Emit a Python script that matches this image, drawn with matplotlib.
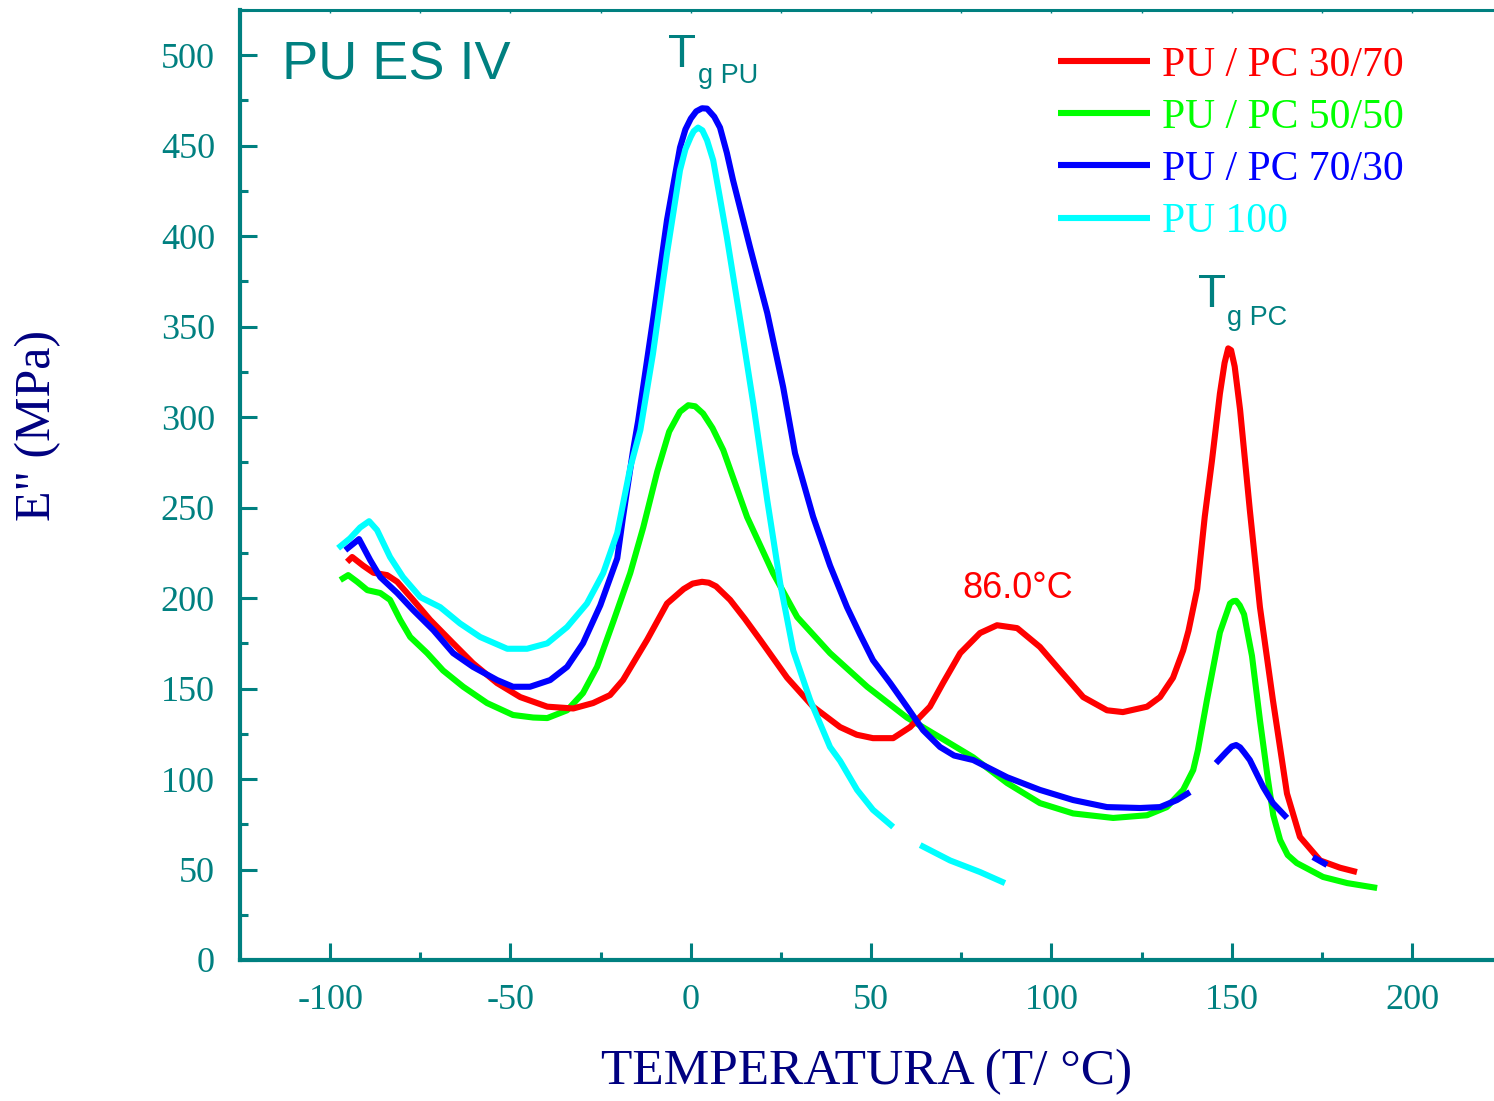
import numpy as np
import matplotlib
matplotlib.use("Agg")
import matplotlib.pyplot as plt
from matplotlib.ticker import MultipleLocator

plt.rcParams["axes.unicode_minus"] = False
nan = np.nan

# ---------------- data ----------------
red_T = [-95.3, -93.9, -90.9, -88, -84.2, -81.4, -77, -72.3, -65.9, -60.4, -53.7, -47.3, -39.8,
         -32.6, -27.1, -22.4, -18.8, -12.1, -6.6, -2, 0.5, 3.1, 5, 7, 10.9, 15, 19.2, 26.7, 33.9,
         41.4, 46, 50.5, 56.1, 60.8, 66.3, 69.9, 74.7, 80.2, 84.9, 90.5, 96.8, 102.4, 108.8,
         115.4, 119.8, 126.5, 130.1, 133.7, 136.5, 138, 140.4, 142.5, 144.5, 146.7, 148, 149,
         149.8, 150.8, 152.3, 155, 157.8, 161.4, 165.3, 168.9, 174.5, 180, 184.7]
red_E = [220, 222.7, 218, 214, 212.7, 209, 199, 188, 175, 164, 153, 145.3, 140,
         139, 142, 146.4, 154.7, 177, 197, 205, 208, 209, 208.5, 206.5, 199, 188.5, 177, 156, 140,
         128.7, 124.5, 122.6, 122.6, 128.7, 140, 153, 169.6, 180.7, 185, 183.4, 173, 160, 145.3,
         138, 137, 140, 145.3, 156, 171, 182, 205, 245, 276, 313, 330, 338,
         337, 328, 304, 248.6, 195, 143.6, 92, 68, 55, 51, 48.6]

green_T = [-97.2, -95, -92.5, -89.7, -86.1, -83.4, -80.6, -77.8, -73.1, -68.7, -63.1, -56.5, -49.3,
           -43.7, -39.8, -34.3, -29.9, -26, -21.5, -16.8, -13.2, -9.3, -6, -3, -0.7, 1.2, 3.4,
           6, 9, 15.6, 22.8, 29.5, 38.6, 48.9, 59.9, 69.1, 78.3, 87.7, 96.8, 106, 117.1, 126.5,
           132, 136.5, 139.3, 140.6, 143.1, 146.7, 149.5, 150.4, 151.2, 152.2, 153.4, 155.6,
           157.8, 160, 161.5, 163.4, 165.5, 168, 175.3, 182, 190.3]
green_E = [210, 212.7, 209, 204.4, 202.8, 199, 188, 178.5, 169.6, 160, 151, 142, 135.4,
           134, 133.7, 138, 147.5, 162, 187, 213.8, 239, 270, 292, 303, 306.6, 306, 302,
           294, 281.8, 244.8, 213.8, 189.5, 169.6, 151, 134, 123, 112, 97.8, 86.7, 81, 78.5, 80,
           84.5, 94, 105, 116, 143.6, 181, 197, 198.3, 198.5, 196, 191, 168,
           132.6, 100, 80, 66.3, 58, 53.6, 45.9, 42.5, 39.8]

blue_T = [-95.8, -92, -88.9, -86.1, -81.4, -77, -71.4, -65.9, -60.4, -53.7, -49.3, -44.6, -39,
          -34.3, -29.9, -25.1, -20.4, -18.8, -16, -14.6, -10.5, -6.6, -3, -1.5, 0, 1.5, 3.1, 4.5,
          6.5, 8.1, 10, 11.7, 16.4, 21.2, 25.6, 28.9, 33.9, 38.6, 43.3, 46.9, 50.5, 55.3, 59.9,
          64.4, 69.1, 73, 78.3, 87.7, 96.8, 106, 115.4, 124.6, 130.1, 134.8, 138.4,
          nan, 145.6, 148.5, 150, 151.2, 152.3, 153.5, 155, 158.7, 161.4, 165.3,
          nan, 172.5, 176.4]
blue_E = [226.5, 232.6, 221, 211.6, 202.8, 193.4, 182.3, 169.6, 162, 154.7, 151, 151, 154.7,
          162, 175, 196, 222, 244.8, 281.8, 298, 353.6, 409, 449, 459, 465, 469, 470.7, 470.5,
          466, 460, 446, 431, 394, 357.5, 316.6, 280, 245, 218, 195, 180, 165.7, 153, 140,
          127, 117.7, 113, 110.5, 101, 94, 88.4, 84.5, 84, 84.5, 88.4, 92.8,
          nan, 108.8, 115, 118, 118.8, 117.5, 114.5, 110.5, 95.6, 86.7, 78.5,
          nan, 56.9, 52.5]

cyan_T = [-97.8, -94.5, -91.7, -89.2, -87, -83.4, -79.8, -75, -69.5, -64, -58.4, -50.9, -45.4,
          -39.8, -34.3, -28.8, -24.3, -20.4, -16.8, -14, -10.5, -6.6, -3, -1.5, 0, 0.8, 2, 3.2,
          4.5, 6.2, 8, 10, 13.7, 17.3, 21.2, 24.8, 28.4, 33.1, 38.6, 41.4, 46.1, 50.5, 56.1,
          nan, 63.6, 71.9, 80.2, 87.1]
cyan_E = [227.6, 233, 239, 242.5, 237.6, 222.7, 211.6, 200.5, 195, 186, 178.5, 172, 172,
          175, 184, 197, 213.8, 236, 272, 292.8, 335, 390.6, 436.5, 448, 455, 458, 460, 458.5,
          453, 442, 422, 399.4, 353.6, 307.7, 254, 208, 171, 143.6, 117.7, 110, 94, 83, 73.5,
          nan, 63.5, 55, 48.6, 42.5]

labels = ["PU / PC 30/70", "PU / PC 50/50", "PU / PC 70/30", "PU 100"]
colors = ["#FF0000", "#00FF00", "#0000FF", "#00FFFF"]
x_ticks = [-100, -50, 0, 50, 100, 150, 200]
y_ticks = [0, 50, 100, 150, 200, 250, 300, 350, 400, 450, 500]

TEAL = "#008080"
NAVY = "#000080"

# ---------------- figure ----------------
fig = plt.figure(figsize=(14.94, 11.01), dpi=100)
ax = fig.add_axes([240 / 1494, 1 - 960 / 1101, 1 - 240 / 1494, (960 - 10) / 1101])

series = [(red_T, red_E), (green_T, green_E), (blue_T, blue_E), (cyan_T, cyan_E)]
order = [1, 0, 2, 3]
lines = {}
for i in order:
    T, E = series[i]
    ln, = ax.plot(T, E, color=colors[i], lw=4.4, solid_capstyle="butt",
                  solid_joinstyle="round", label=labels[i])
    lines[i] = ln

ax.set_xlim(-125, 222.7)
ax.set_ylim(0, 525)

ax.spines["right"].set_visible(False)
ax.spines["left"].set_linewidth(3.0)
ax.spines["bottom"].set_linewidth(3.0)
ax.spines["top"].set_linewidth(2.2)
for s in ["left", "bottom", "top"]:
    ax.spines[s].set_color(TEAL)

ax.set_xticks(x_ticks)
ax.set_yticks(y_ticks)
ax.xaxis.set_minor_locator(MultipleLocator(25))
ax.yaxis.set_minor_locator(MultipleLocator(25))
ax.tick_params(axis="both", which="major", direction="in", length=12, width=2.2,
               colors=TEAL, labelcolor=TEAL, labelsize=26, pad=14)
ax.tick_params(axis="both", which="minor", direction="in", length=6, width=2.2, colors=TEAL)
ax.tick_params(axis="x", which="both", top=True)
ax.tick_params(axis="x", which="major", pad=17)
ax.tick_params(axis="y", which="major", pad=18)
for t in ax.get_xticklabels() + ax.get_yticklabels():
    t.set_fontfamily("Liberation Serif")
for tk in ax.xaxis.get_major_ticks() + ax.xaxis.get_minor_ticks():
    tk.tick2line.set_markersize(2)
    tk.tick2line.set_markeredgewidth(1)

ax.set_xlabel("TEMPERATURA (T/ °C)", fontfamily="Liberation Serif", fontsize=37,
              color=NAVY, labelpad=23)
fig.text(38 / 1494, 1 - 425 / 1101, 'E" (MPa)', rotation=90, fontfamily="Liberation Serif",
         fontsize=36, color=NAVY, ha="center", va="center")

# annotations
ax.text((282 - 240) / 1254, 1 - (80 - 10) / 950, "PU ES IV", transform=ax.transAxes,
        fontfamily="Liberation Sans", fontsize=39, color=TEAL, ha="left", va="baseline")
ax.text(-6.3, 493.4, "T", fontfamily="Liberation Sans", fontsize=33, color=TEAL,
        ha="left", va="baseline")
ax.text(2.0, 484.5, "g PU", fontfamily="Liberation Sans", fontsize=19.5, color=TEAL,
        ha="left", va="baseline")
ax.text(140.6, 360.8, "T", fontfamily="Liberation Sans", fontsize=33, color=TEAL,
        ha="left", va="baseline")
ax.text(148.7, 350.8, "g PC", fontfamily="Liberation Sans", fontsize=19.5, color=TEAL,
        ha="left", va="baseline")
ax.text(75.2, 200, "86.0°C", fontfamily="Liberation Sans", fontsize=26, color="#FF0000",
        ha="left", va="baseline")

# legend
handles = [lines[i] for i in range(4)]
leg = ax.legend(handles, labels, loc="upper left",
                bbox_to_anchor=(1058 / 1494, 1 - 46 / 1101), bbox_transform=fig.transFigure,
                frameon=False, borderpad=0, borderaxespad=0, handlelength=2.2,
                handletextpad=0.29, labelspacing=0.33,
                prop={"family": "Liberation Serif", "size": 30}, labelcolor="linecolor")
for h in leg.get_lines():
    h.set_linewidth(4.4)

fig.savefig("out.png", dpi=100)
